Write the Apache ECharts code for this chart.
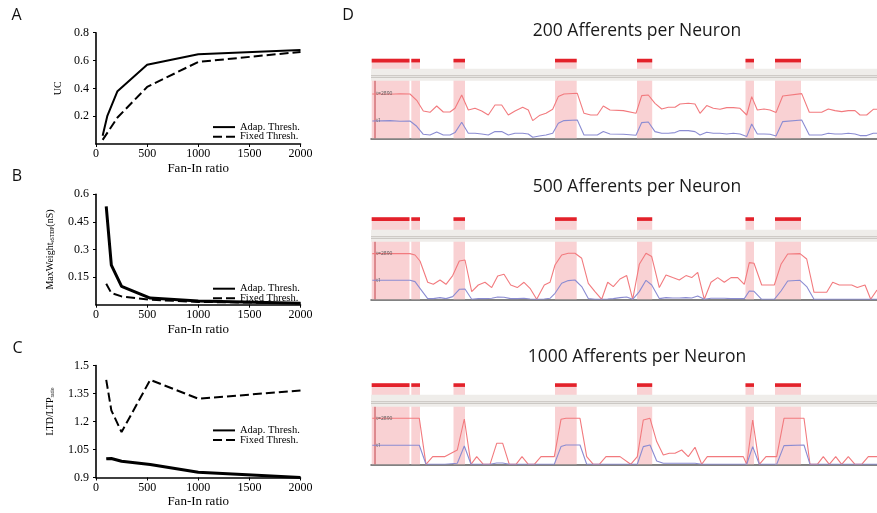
<!DOCTYPE html>
<html><head><meta charset="utf-8">
<script src="https://cdn.jsdelivr.net/npm/echarts@6/dist/echarts.min.js"></script>
<style>html,body{margin:0;padding:0;background:#fff}#c{width:877px;height:513px}</style>
</head><body><div id="c"></div>
<script>
// ---------- Panel A: UC vs Fan-In ratio ----------
const ucFanInAdap = [65, 110, 210, 500, 1000, 2000];
const ucAdap = [0.06, 0.2, 0.38, 0.57, 0.645, 0.675];
const ucFanInFixed = [65, 210, 500, 1000, 2000];
const ucFixed = [0.03, 0.19, 0.41, 0.59, 0.662];

// ---------- Panels B, C ----------
const fanIn = [100, 150, 250, 530, 1000, 2000];
const maxwAdap = [0.535, 0.215, 0.1, 0.036, 0.02, 0.008];
const maxwFixed = [0.114, 0.063, 0.045, 0.027, 0.015, 0.008];
const ratioAdap = [1.0, 1.002, 0.987, 0.97, 0.928, 0.9];
const ratioFixed = [1.423, 1.26, 1.143, 1.423, 1.322, 1.366];

const xTicks = [0, 500, 1000, 1500, 2000];

// ---------- Panel D: stimulus intervals (time units) ----------
const stimOn  = [-3.3, 36.3, 78.5, 180, 262, 370.5, 400];
const stimOff = [34.5, 45, 90, 201.7, 277.2, 379, 426];

const dTitles = ['200 Afferents per Neuron', '500 Afferents per Neuron', '1000 Afferents per Neuron'];

// D1 (200 afferents)
const d1Time = [-2.7,15,25,35,41.7,48.3,55,61.7,68.3,75,80,86.7,93.3,100,106.7,113.3,120,126.7,133.3,140,147.7,153.3,157.7,164.3,171,177.7,183.3,189,202.3,209,215.7,222.3,228.3,235,248.3,261,266.7,273.3,280,286.7,293.3,300,305,313.3,320,325,331.7,338.3,345,351.7,358.3,365,371.7,376.7,382.3,389,395,401,407.7,426.7,434.3,446.7,453.3,460,466.7,473.3,480,485,491.7,498.3,502];
const d1Red = [44.3,44,44.5,44.3,38,27.3,26,32.3,26.3,26.3,30,43.3,28.3,30,27.3,23.3,33.3,33.3,23.3,27.3,31,28.3,17.7,22.7,25,29,41.7,44.3,45,25,23.3,23.3,32.3,28.3,27.7,25,42.7,43.3,35,29.3,31,31,34.3,35,34.3,25,32.7,30,29,30.7,30.7,30,23.3,41.7,28.3,29.3,28.3,25.7,42.3,44.7,26,26,29.3,27.7,26.7,27.7,27.7,23.3,23.3,29,29];
const d1Blue = [17.3,17.7,17,17.3,12,4,3.3,6.3,3.3,3.3,5.7,16,5,5,4.3,3.3,6.7,6.7,3.3,5,5,4.3,1,2.3,3.3,5,15,17.7,18.3,3.3,3.3,3.3,6.7,4.3,4,3,15.7,16.3,6.7,5,5,5.7,7.7,7.7,6.7,3.3,6,5,5,4.3,5,4.3,1.7,14.3,4.3,4.3,4,2.3,16.7,18.3,3.3,3.3,5,4.3,4.3,5,4.3,2.7,2.7,5,5];

// D2 (500 afferents)
const d2Time = [-2.7,35,40,45,52.7,58.3,65,71,77.7,84.3,90,96.7,103.3,110,116.7,122.7,129,135.7,142.3,149,155,161.7,169.3,175,180,186.7,193.3,200,206.7,213.3,220,226.7,232.7,238.3,245,251.7,257.7,264.3,271,276.7,284.3,291,297.7,304.3,311,316.7,322.7,329.3,336,342.7,349.3,356,362.7,369.3,374.3,379,386.7,399.3,406,412.7,425,431.7,439,451.7,457.7,464.3,476.7,482.3,490,495.7,502];
const d2Red = [45.7,45.7,44.3,38.3,17,15,19.3,15,23.7,38.3,39.3,7.7,14.3,17,11.7,23.3,25,14.3,11.7,17,11,0,14.3,17,34.3,44.3,46,46,41,16,7.7,0,17,12.7,20.3,23.7,0,35,46,42.7,11.7,24.3,21.7,19.3,23.7,21.7,27,0,17,21.7,17,21.7,21.7,15,36.7,36,14.3,14.3,35,45.3,45.7,40.3,7,7,17,14.3,14.3,11.7,14.3,0,9.3];
const d2Blue = [19,19,17.7,11,0.7,0.7,1.7,0.7,2.7,10,10.3,0,0.7,0.7,1,2.3,2,0.7,0.7,1,0.3,0,0.3,1,6,16,18.7,19.3,12.7,0.7,0,0,0.3,0.7,1.7,2.3,0,7.7,19,14.3,0.7,1.7,1.3,1.3,1.7,1.3,3.3,0,1,1,1,0.7,0.7,0.7,8.3,8,0,0,8.3,18.3,19,12.7,0,0,0,0,0,0,0,0,0];

// D3 (1000 afferents)
const d3Time = [-2.7,44.3,51,57.7,70,82.3,89.3,96,101.7,108.3,115,121.7,127.7,134.3,141,147,153.3,159.3,166,179.3,186,191,205,211.7,218.3,224.3,231,245,255.7,262.3,268.3,275,281.7,288.3,294.3,300,306.7,313.3,320,326.7,332.3,368.3,371.7,377.7,384.3,391,401.7,409,429,435,442.3,448.3,454.3,460.7,466.7,473.3,480,486.7,493.3,502];
const d3Red = [46,46,0,7.7,7.7,14.3,45.3,0,7.7,0,0,21,21,0,0,7.7,0,0,7.7,7.7,45,46,46,7.7,0,0,7.7,7.7,0,7.7,44.3,46,22.7,9.3,11,11,14.3,7.7,17,0,7.7,7.7,0,44.3,0,7.7,7.7,46,46,0,0,7.7,0,7.7,0,7.7,0,0,7.7,7.7];
const d3Blue = [19,19,0,0,0,1,18.3,0,0,0,0,1.3,1.3,0,0,0,0,0,0,0,17.7,19.3,19.3,0,0,0,0,0,0,0,17.7,19.3,3.3,1,1,1,1,1,1,0,0,0,0,17.7,0,0,0,18.7,19.3,0,0,0,0,0,0,0,0,0,0,0];

const redLabel = 't=2890';
const blueLabel = 't1';

// ---------- layout / style ----------
const SERIF = '"Liberation Serif","DejaVu Serif",serif';
const SANS = '"Open Sans","Noto Sans",sans-serif';
const leftGrids = [
  {left: 96, top: 32.7, width: 204.5, height: 111.3},
  {left: 96, top: 194.3, width: 204.5, height: 110.4},
  {left: 96, top: 365.5, width: 204.5, height: 112}
];
const dGrids = [
  {left: 371, top: 58.8, width: 506, height: 79.5},
  {left: 371, top: 217.3, width: 506, height: 82},
  {left: 371, top: 383.3, width: 506, height: 81}
];
const BAND = {bot: 57.5, top: 69.5, l1: 61, l2: 62.8};
const PINK = '#f9d1d3', BARRED = '#e3212a', LRED = '#f27a7e', LBLUE = '#8b8cd2';

const zip = (a, b) => a.map((v, i) => [v, b[i]]);

const grid = [...leftGrids, ...dGrids];
const xAxis = [], yAxis = [], series = [];

const leftY = [
  {min: 0, max: 0.8, interval: 0.2, showMin: false, name: 'UC', gap: 33, pad: [0,0,0,0]},
  {min: 0, max: 0.6, interval: 0.15, showMin: false,
   name: '{a|MaxWeight}{s|eSTDP}{a|(nS)}', gap: 40, pad: [0,0,0,0]},
  {min: 0.9, max: 1.5, interval: 0.15, showMin: true,
   name: '{a|LTD/LTP}{s|ratio}', gap: 40, pad: [0,0,0,20]}
];
leftY.forEach((c, i) => {
  xAxis.push({
    gridIndex: i, type: 'value', min: 0, max: 2000, interval: 500,
    axisLine: {lineStyle: {color: '#000', width: 1.6}},
    axisTick: {show: true, length: 3, lineStyle: {color: '#000', width: 1}},
    axisLabel: {margin: 4, fontFamily: SERIF, fontSize: 12, color: '#000',
      formatter: v => xTicks.includes(v) ? String(v) : ''},
    splitLine: {show: false},
    name: 'Fan-In ratio', nameLocation: 'middle', nameGap: 18,
    nameTextStyle: {fontFamily: SERIF, fontSize: 13, color: '#000'}
  });
  yAxis.push({
    gridIndex: i, type: 'value', min: c.min, max: c.max, interval: c.interval,
    axisLine: {show: true, lineStyle: {color: '#000', width: 1.6}},
    axisTick: {show: true, length: 3, lineStyle: {color: '#000', width: 1}},
    axisLabel: {margin: 7, fontFamily: SERIF, fontSize: 12, color: '#000', showMinLabel: c.showMin},
    splitLine: {show: false},
    name: c.name, nameLocation: 'middle', nameGap: c.gap,
    nameTextStyle: {fontFamily: SERIF, fontSize: 10, color: '#000', padding: c.pad,
      rich: {a: {fontFamily: SERIF, fontSize: 10, lineHeight: 12, color: '#000'},
             s: {fontFamily: SERIF, fontSize: 5.5, lineHeight: 12, verticalAlign: 'bottom', color: '#000'}}}
  });
});

function addPair(idx, tag, xa, ya, xf, yf, wAdap) {
  series.push({name: tag + ':Adap. Thresh.', type: 'line', xAxisIndex: idx, yAxisIndex: idx,
    data: zip(xa, ya), symbol: 'none', itemStyle: {color: '#000'},
    lineStyle: {color: '#000', width: wAdap}, z: 4});
  series.push({name: tag + ':Fixed Thresh.', type: 'line', xAxisIndex: idx, yAxisIndex: idx,
    data: zip(xf, yf), symbol: 'none', itemStyle: {color: '#000'},
    lineStyle: {color: '#000', width: 2, type: [9, 4]}, z: 3});
}
addPair(0, 'A', ucFanInAdap, ucAdap, ucFanInFixed, ucFixed, 2);
addPair(1, 'B', fanIn, maxwAdap, fanIn, maxwFixed, 3);
addPair(2, 'C', fanIn, ratioAdap, fanIn, ratioFixed, 3);

const legendTops = [121.6, 283.2, 424.9];
const legend = ['A', 'B', 'C'].map((t, i) => ({
  data: [t + ':Adap. Thresh.', t + ':Fixed Thresh.'],
  orient: 'vertical', left: 212, top: legendTops[i], padding: 0,
  itemWidth: 22, itemHeight: 8, itemGap: -1.4, selectedMode: false,
  itemStyle: {opacity: 0},
  formatter: n => n.split(':')[1],
  textStyle: {fontFamily: SERIF, fontSize: 10.5, lineHeight: 9, color: '#000'}
}));

// ---------- D panels ----------
const dData = [[d1Time, d1Red, d1Blue], [d2Time, d2Red, d2Blue], [d3Time, d3Red, d3Blue]];
dGrids.forEach((g, k) => {
  const idx = 3 + k;
  const h = g.height;
  xAxis.push({gridIndex: idx, type: 'value', min: -4, max: 502,
    axisLine: {show: true, onZero: false, lineStyle: {color: '#5a5a5a', width: 1.5}},
    axisTick: {show: false}, axisLabel: {show: false}, splitLine: {show: false}});
  yAxis.push({gridIndex: idx, type: 'value', min: 0, max: h, show: false, splitLine: {show: false}});
  const barBot = h - 3.6;
  series.push({
    type: 'custom', xAxisIndex: idx, yAxisIndex: idx, z: 1, silent: true,
    data: zip(stimOn, stimOff),
    renderItem: (params, api) => {
      const x0 = api.coord([api.value(0), 0])[0];
      const x1 = api.coord([api.value(1), 0])[0];
      const yb = api.coord([0, 0])[1];
      const yt = api.coord([0, h])[1];
      const ybb = api.coord([0, barBot])[1];
      return {type: 'group', children: [
        {type: 'rect', shape: {x: x0, y: yt, width: x1 - x0, height: yb - yt}, style: {fill: PINK}},
        {type: 'rect', shape: {x: x0, y: yt, width: x1 - x0, height: ybb - yt}, style: {fill: BARRED}}
      ]};
    }
  });
  series.push({
    type: 'custom', xAxisIndex: idx, yAxisIndex: idx, z: 2, silent: true,
    data: [[0]],
    renderItem: (params, api) => {
      const cs = params.coordSys;
      const yTop = api.coord([0, BAND.top])[1];
      const yBot = api.coord([0, BAND.bot])[1];
      const y1 = api.coord([0, BAND.l1])[1];
      const y2 = api.coord([0, BAND.l2])[1];
      const xa = api.coord([0, 0]);
      return {type: 'group', children: [
        {type: 'rect', shape: {x: cs.x, y: yTop, width: cs.width, height: yBot - yTop}, style: {fill: '#efedea'}},
        {type: 'line', shape: {x1: cs.x, y1: y1, x2: cs.x + cs.width, y2: y1}, style: {stroke: '#c4c0bc', lineWidth: 1}},
        {type: 'line', shape: {x1: cs.x, y1: y2, x2: cs.x + cs.width, y2: y2}, style: {stroke: '#cfcbc7', lineWidth: 1}},
        {type: 'line', shape: {x1: xa[0], y1: xa[1], x2: xa[0], y2: yBot}, style: {stroke: '#c2434b', lineWidth: 1}}
      ]};
    }
  });
  const [tm, rd, bl] = dData[k];
  const mk = (vals, color, text) => ({
    type: 'line', xAxisIndex: idx, yAxisIndex: idx, z: 3, symbol: 'none', silent: true,
    data: zip(tm, vals), lineStyle: {color: color, width: 1.1},
    markPoint: {symbol: 'circle', symbolSize: 0, silent: true,
      label: {show: true, position: 'right', distance: 4, formatter: text, fontSize: 5,
        fontFamily: SANS, color: '#555'},
      data: [{coord: [tm[0], vals[0]]}]}
  });
  series.push(mk(rd, LRED, redLabel));
  series.push(mk(bl, LBLUE, blueLabel));
});

const letters = [['A', 16.5, 15], ['B', 17, 176.5], ['C', 17.5, 348], ['D', 348, 15]];
const titleY = [31, 187, 357];
const graphic = [
  ...letters.map(([t, x, y]) => ({type: 'text', x: x, y: y,
    style: {text: t, fontFamily: SANS, fontSize: 16, fill: '#111', textAlign: 'center', textVerticalAlign: 'middle'}})),
  ...dTitles.map((t, i) => ({type: 'text', x: 637, y: titleY[i],
    style: {text: t, fontFamily: SANS, fontSize: 17.5, fill: '#1a1a1a', textAlign: 'center', textVerticalAlign: 'middle'}}))
];

const chart = echarts.init(document.getElementById('c'), null, {renderer: 'canvas'});
chart.setOption({
  animation: false, backgroundColor: '#fff',
  grid, xAxis, yAxis, series, legend, graphic
});
</script></body></html>
